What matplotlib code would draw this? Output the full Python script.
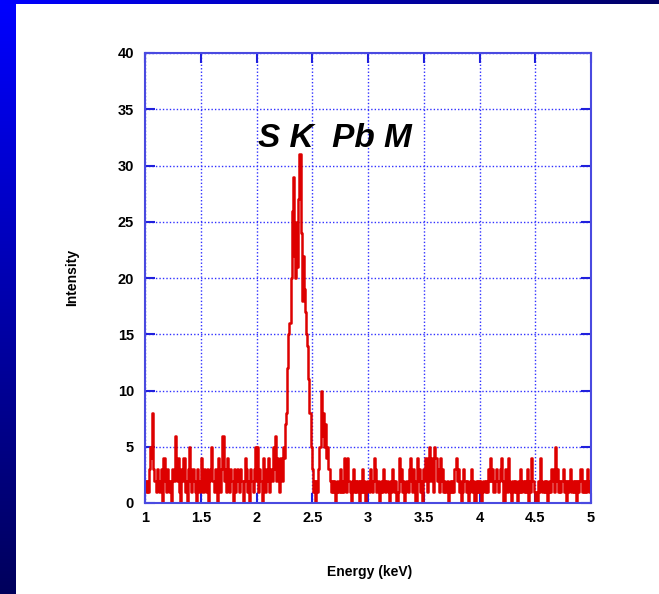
import numpy as np
import matplotlib.pyplot as plt

# counts per 0.01 keV channel (1.00 .. 5.00 keV)
counts_1_0 = [2, 1, 2, 1, 3, 5, 4, 8, 3, 2,
              1, 3, 2, 1, 2, 3, 0, 4, 2, 1,
              3, 2, 1, 2, 0, 3, 2, 6, 3, 2,
              4, 1, 0, 3, 2, 4, 1, 2, 0, 3,
              5, 2, 1, 3, 2, 1, 0, 3, 2, 1]
counts_1_5 = [2, 4, 1, 3, 2, 1, 3, 0, 2, 3,
              5, 2, 1, 3, 2, 0, 4, 2, 1, 3,
              6, 2, 3, 1, 4, 2, 1, 3, 2, 0,
              3, 1, 2, 3, 2, 1, 3, 2, 0, 2,
              4, 3, 1, 2, 0, 3, 2, 1, 3, 5]
counts_2_0 = [2, 5, 1, 3, 2, 0, 4, 2, 1, 3,
              2, 4, 1, 3, 2, 5, 3, 6, 2, 4,
              3, 1, 4, 2, 5, 4, 7, 8, 12, 15,
              16, 20, 26, 29, 22, 20, 25, 21, 27, 31,
              24, 18, 22, 19, 17, 15, 14, 11, 8, 5]
counts_2_5 = [3, 1, 2, 0, 2, 1, 3, 5, 10, 6,
              8, 5, 7, 4, 5, 3, 2, 1, 2, 1,
              2, 0, 1, 2, 1, 3, 1, 2, 1, 4,
              2, 1, 4, 2, 1, 0, 2, 3, 1, 2,
              1, 2, 0, 2, 1, 3, 1, 2, 0, 1]
counts_3_0 = [2, 1, 3, 2, 1, 2, 4, 3, 1, 2,
              0, 1, 2, 1, 3, 2, 1, 2, 1, 0,
              2, 1, 3, 2, 1, 2, 0, 1, 4, 2,
              3, 1, 2, 0, 1, 2, 1, 3, 4, 2,
              1, 3, 2, 0, 4, 2, 3, 1, 2, 0]
counts_3_5 = [3, 2, 4, 1, 3, 5, 2, 4, 3, 1,
              5, 4, 2, 3, 1, 4, 2, 3, 1, 2,
              1, 2, 0, 1, 2, 1, 2, 1, 3, 4,
              2, 3, 1, 2, 0, 1, 3, 2, 1, 2,
              0, 1, 2, 3, 1, 2, 0, 2, 1, 2]
counts_4_0 = [1, 2, 0, 1, 2, 1, 2, 1, 3, 2,
              4, 2, 3, 1, 2, 3, 2, 1, 2, 3,
              4, 2, 0, 3, 2, 1, 4, 2, 1, 0,
              2, 1, 2, 1, 0, 2, 1, 3, 1, 2,
              1, 2, 1, 3, 0, 2, 1, 4, 2, 1]
counts_4_5 = [0, 1, 0, 2, 1, 4, 2, 1, 2, 1,
              2, 0, 1, 2, 1, 3, 2, 1, 5, 2,
              3, 1, 2, 1, 2, 3, 1, 2, 0, 2,
              1, 2, 3, 1, 2, 1, 2, 0, 2, 1,
              2, 3, 1, 2, 1, 2, 1, 3, 2, 1,
              2]

counts = (counts_1_0 + counts_1_5 + counts_2_0 + counts_2_5 +
          counts_3_0 + counts_3_5 + counts_4_0 + counts_4_5)
energy = np.round(1.0 + 0.01 * np.arange(len(counts)), 2)

x_ticks = [1, 1.5, 2, 2.5, 3, 3.5, 4, 4.5, 5]
x_tick_labels = ['1', '1.5', '2', '2.5', '3', '3.5', '4', '4.5', '5']
y_ticks = [0, 5, 10, 15, 20, 25, 30, 35, 40]

plt.rcParams['font.family'] = ['Liberation Sans', 'DejaVu Sans']

fig = plt.figure(figsize=(6.59, 5.94), dpi=100)

# slide background: blue gradient strips on the left and top
grad = np.linspace(0, 1, 256)
left_cols = np.zeros((256, 1, 3))
left_cols[:, 0, 2] = 1.0 - 0.64 * grad
ax_l = fig.add_axes([0, 0, 16 / 659, 1])
ax_l.imshow(left_cols, aspect='auto', extent=[0, 1, 0, 1])
ax_l.axis('off')
top_cols = np.zeros((1, 256, 3))
top_cols[0, :, 2] = 1.0 - 0.6 * grad
ax_t = fig.add_axes([0, 1 - 4 / 594, 1, 4 / 594])
ax_t.imshow(top_cols, aspect='auto', extent=[0, 1, 0, 1])
ax_t.axis('off')

ax = fig.add_axes([145 / 659, 1 - 503 / 594, 446 / 659, 450 / 594])
ax.plot(energy, counts, color='#dd0000', linewidth=1.8, drawstyle='steps-mid')

ax.set_xlim(1, 5)
ax.set_ylim(0, 40)
ax.set_xticks(x_ticks)
ax.set_xticklabels(x_tick_labels)
ax.set_yticks(y_ticks)
ax.grid(True, color='#3030ff', linestyle=(0, (1, 1.5)), linewidth=1)
for s in ax.spines.values():
    s.set_color('#4a4ae0')
    s.set_linewidth(1.5)
ax.tick_params(direction='in', length=7, width=1.5, color='#2020dd',
               labelsize=10.5, right=True, top=True)
ax.tick_params(axis='y', pad=8)
ax.tick_params(axis='x', pad=6)
for lab in ax.get_xticklabels() + ax.get_yticklabels():
    lab.set_fontweight('bold')

ax.text(2.7, 32.4, 'S K  Pb M', fontsize=24, fontweight='bold',
        fontstyle='italic', ha='center', va='center')

fig.text(72 / 659, 1 - 277 / 594, 'Intensity', rotation=90, fontsize=10,
         fontweight='bold', ha='center', va='center')
fig.text(370 / 659, 1 - 572 / 594, 'Energy (keV)', fontsize=10,
         fontweight='bold', ha='center', va='center')

fig.savefig('out.png', dpi=100)
